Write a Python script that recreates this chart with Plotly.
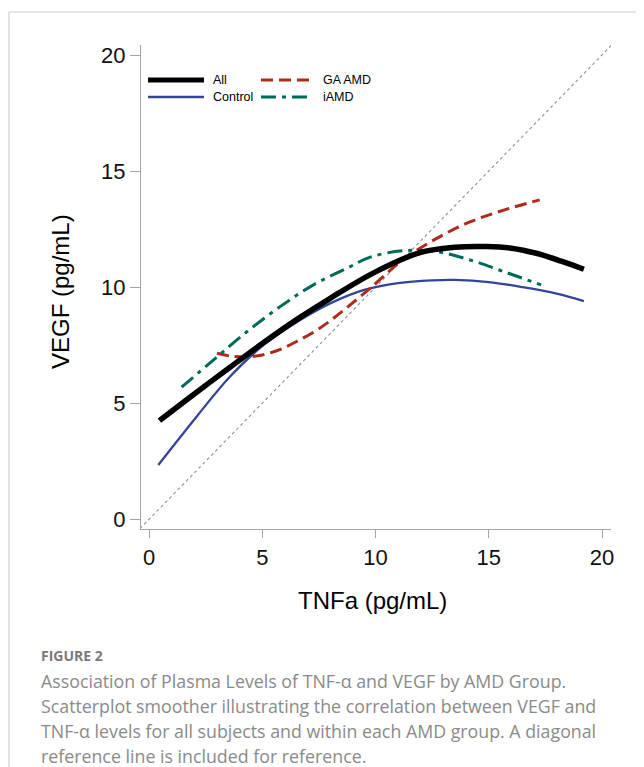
import plotly.graph_objects as go

# ---------------- data ----------------
series_names = ["All", "Control", "GA AMD", "iAMD"]

all_x = [0.46, 2.0, 3.58, 5.0, 6.5, 8.0, 10.0, 12.0, 13.5, 14.9, 16.0, 17.1, 18.2, 19.2]
all_y = [4.25, 5.4, 6.55, 7.57, 8.59, 9.52, 10.66, 11.5, 11.72, 11.75, 11.68, 11.46, 11.12, 10.77]

ctrl_x = [0.41, 2.1, 3.58, 5.05, 6.53, 8.0, 9.5, 11.0, 12.5, 13.5, 15.0, 16.5, 18.0, 19.2]
ctrl_y = [2.34, 4.42, 6.15, 7.5, 8.5, 9.3, 9.88, 10.17, 10.29, 10.31, 10.22, 10.0, 9.72, 9.4]

ga_x = [3.0, 3.6, 4.3, 5.0, 5.8, 6.5, 7.3, 8.0, 8.7, 9.8, 11.2, 12.7, 14.2, 15.7, 17.25]
ga_y = [7.15, 7.03, 7.0, 7.08, 7.32, 7.65, 8.08, 8.55, 9.09, 9.98, 11.17, 12.1, 12.82, 13.33, 13.76]

iamd_x = [1.44, 2.84, 4.32, 5.79, 7.26, 8.73, 9.77, 11.24, 12.71, 14.18, 15.66, 17.31]
iamd_y = [5.69, 6.86, 8.08, 9.16, 10.1, 10.81, 11.29, 11.57, 11.53, 11.17, 10.67, 10.1]

ref_line = [-0.4, 20.45]  # y = x diagonal reference

x_ticks = [0, 5, 10, 15, 20]
y_ticks = [0, 5, 10, 15, 20]

x_title = "TNFa (pg/mL)"
y_title = "VEGF (pg/mL)"

caption_head = "FIGURE 2"
caption_lines = [
    "Association of Plasma Levels of TNF-\u03b1 and VEGF by AMD Group.",
    "Scatterplot smoother illustrating the correlation between VEGF and",
    "TNF-\u03b1 levels for all subjects and within each AMD group. A diagonal",
    "reference line is included for reference.",
]

# ---------------- styles ----------------
colors = {"All": "#000000", "Control": "#34449a", "GA AMD": "#ad2a1c", "iAMD": "#006a58"}
widths = {"All": 5.5, "Control": 2.3, "GA AMD": 3, "iAMD": 3}
dashes = {"All": "solid", "Control": "solid", "GA AMD": "12px,6px", "iAMD": "15px,6px,4px,6px"}

OFF = 8  # the page body has an 8px margin
W, H = 644 - OFF, 767 - OFF
L, R, T, B = 133, 33, 37, 238
PW, PH = W - L - R, H - T - B


def px(xs):
    """screen x pixel -> paper x"""
    return (xs - OFF - L) / PW


def py(ys):
    """screen y pixel -> paper y"""
    return (H - B - (ys - OFF)) / PH


FONT = "Liberation Sans, Arial, Helvetica, sans-serif"
AXC = "#a6a6a6"

fig = go.Figure()

fig.add_trace(go.Scatter(x=ref_line, y=ref_line, mode="lines",
                         line=dict(color="#8f8f8f", width=1.1, dash="3px,3px"),
                         showlegend=False, hoverinfo="skip"))

data = {"All": (all_x, all_y), "Control": (ctrl_x, ctrl_y),
        "GA AMD": (ga_x, ga_y), "iAMD": (iamd_x, iamd_y)}
for name in ["Control", "GA AMD", "iAMD", "All"]:
    xs, ys = data[name]
    fig.add_trace(go.Scatter(x=xs, y=ys, mode="lines", name=name,
                             line=dict(color=colors[name], width=widths[name],
                                       dash=dashes[name], shape="spline", smoothing=1.0),
                             showlegend=False))

# screen: x=0 at pixel 149, x=20 at 602; y=0 at 519.3, y=20 at 55
xs_per = (602 - 149) / 20.0
x_range = [-(149 - OFF - L) / xs_per, (L + PW - (149 - OFF)) / xs_per]
ys_per = (519.3 - 55) / 20.0
y_range = [-(H - B - (519.3 - OFF)) / ys_per, ((519.3 - OFF) - T) / ys_per]

fig.update_layout(
    width=W, height=H,
    margin=dict(l=L, r=R, t=T, b=B),
    paper_bgcolor="white", plot_bgcolor="white",
    font=dict(family=FONT, color="#000"),
    xaxis=dict(range=x_range, tickvals=x_ticks, showgrid=False, zeroline=False,
               showline=True, linecolor=AXC, linewidth=1.3, ticks="outside",
               ticklen=8, tickcolor=AXC, tickwidth=1.3,
               tickfont=dict(size=22, family=FONT, color="#111")),
    yaxis=dict(range=y_range, tickvals=y_ticks, showgrid=False, zeroline=False,
               showline=True, linecolor=AXC, linewidth=1.3, ticks="outside",
               ticklen=10, tickcolor=AXC, tickwidth=1.3,
               tickfont=dict(size=22, family=FONT, color="#111")),
    showlegend=False,
)

ann = []
shapes = []
# axis titles
ann.append(dict(text=x_title, xref="paper", yref="paper", x=px(372), y=py(600),
                showarrow=False, font=dict(size=24, family=FONT, color="#000"),
                xanchor="center", yanchor="middle"))
ann.append(dict(text=y_title, xref="paper", yref="paper", x=px(60), y=py(292),
                showarrow=False, textangle=-90, font=dict(size=24, family=FONT, color="#000"),
                xanchor="center", yanchor="middle"))

# legend (2 columns, drawn manually to match the long line samples)
leg_layout = {"All": (148, 204, 80), "Control": (148, 204, 97),
              "GA AMD": (261, 312, 80), "iAMD": (261, 312, 97)}
for name in series_names:
    x0, x1, yy = leg_layout[name]
    shapes.append(dict(type="line", xref="paper", yref="paper",
                       x0=px(x0), x1=px(x1), y0=py(yy), y1=py(yy),
                       line=dict(color=colors[name], width=min(widths[name], 5),
                                 dash=dashes[name])))
    tx = 211 if x0 < 200 else 321
    ann.append(dict(text=name, xref="paper", yref="paper", x=px(tx), y=py(yy),
                    showarrow=False, xanchor="left", yanchor="middle",
                    font=dict(size=12.5, family=FONT, color="#000")))

# page frame
shapes.append(dict(type="line", xref="paper", yref="paper", x0=px(9), x1=px(9),
                   y0=py(12), y1=py(790), line=dict(color="#cfcfcf", width=1.2)))
shapes.append(dict(type="line", xref="paper", yref="paper", x0=px(9), x1=px(680),
                   y0=py(12), y1=py(12), line=dict(color="#cfcfcf", width=1.2)))

# caption
CAPF = "Open Sans, Noto Sans, sans-serif"
ann.append(dict(text="<b>" + caption_head + "</b>", xref="paper", yref="paper", x=px(39), y=py(655),
                showarrow=False, xanchor="left", yanchor="middle",
                font=dict(size=14, family=CAPF, color="#7a7a7a")))
cap_y = [681, 706, 731, 755.5]
for line, yy in zip(caption_lines, cap_y):
    ann.append(dict(text=line, xref="paper", yref="paper", x=px(39), y=py(yy),
                    showarrow=False, xanchor="left", yanchor="middle",
                    font=dict(size=17.8, family=CAPF, color="#8a8a8a")))

fig.update_layout(annotations=ann, shapes=shapes)

fig.write_html("out.html")
